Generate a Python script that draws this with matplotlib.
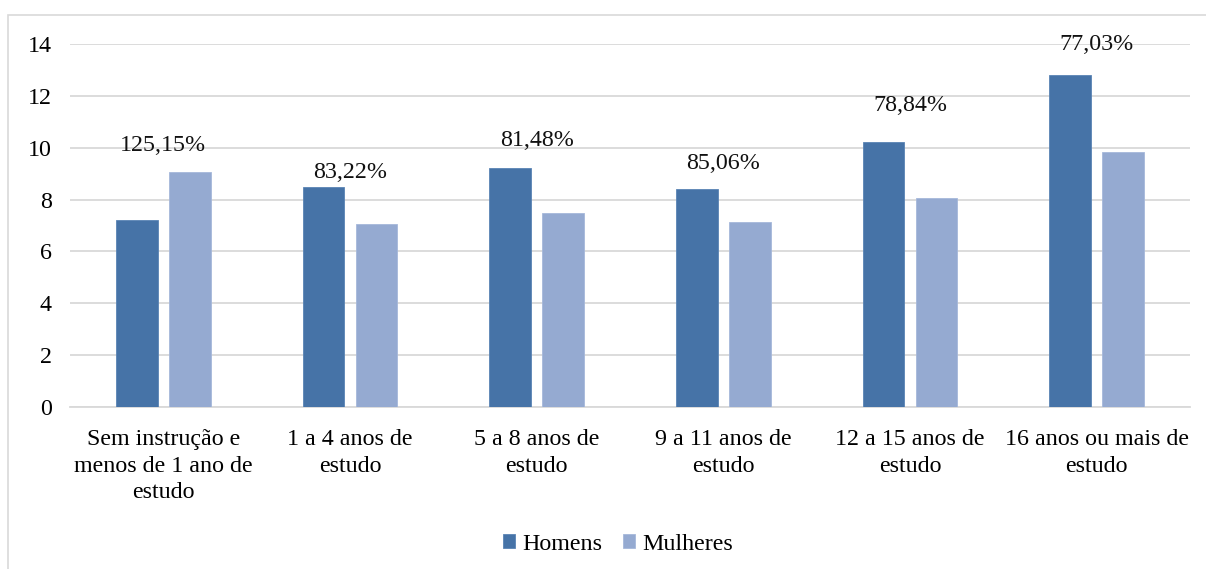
import matplotlib
matplotlib.use("Agg")
import matplotlib.pyplot as plt
from matplotlib.patches import Rectangle
import numpy as np

categories = [
    "Sem instrução e\nmenos de 1 ano de\nestudo",
    "1 a 4 anos de\nestudo",
    "5 a 8 anos de\nestudo",
    "9 a 11 anos de\nestudo",
    "12 a 15 anos de\nestudo",
    "16 anos ou mais de\nestudo",
]
homens = [7.23, 8.47, 9.20, 8.40, 10.21, 12.79]
mulheres = [9.05, 7.05, 7.50, 7.15, 8.05, 9.85]
razao_labels = ["125,15%", "83,22%", "81,48%", "85,06%", "78,84%", "77,03%"]
yticks = [0, 2, 4, 6, 8, 10, 12, 14]

# vertical placement of the ratio annotations (data units)
label_y = [10.07, 9.06, 10.26, 9.41, 11.62, 14.0]

plt.rcParams["font.family"] = ["Liberation Serif", "DejaVu Serif"]
FS = 17.3

W, H = 1206, 569
fig = plt.figure(figsize=(W / 100, H / 100), dpi=100)
fig.patch.set_facecolor("white")

# outer chart frame
fig.add_artist(Rectangle((8 / W, -0.01), 1.2, (H - 15) / H + 0.01,
                         transform=fig.transFigure, fill=False,
                         edgecolor="#d9d9d9", linewidth=1.2))

ax = fig.add_axes([70 / W, 1 - 407 / H, (1190 - 70) / W, (407 - 44) / H])

x = np.arange(len(categories))
bw = 0.222
off = 0.142
c_h = "#4673a7"
c_m = "#95aad1"
ax.bar(x - off, homens, bw, color=c_h, label="Homens", zorder=3,
       edgecolor="#5a84b5", linewidth=0.6)
ax.bar(x + off, mulheres, bw, color=c_m, label="Mulheres", zorder=3,
       edgecolor="#a6b8da", linewidth=0.6)

for xi, yi, t in zip(x, label_y, razao_labels):
    ax.text(xi, yi, t, ha="center", va="center", fontsize=FS, color="#111111", zorder=4)

ax.set_xlim(-0.5, len(categories) - 0.5)
ax.set_ylim(0, 14)
ax.set_yticks(yticks)
ax.set_yticklabels([str(v) for v in yticks], fontsize=FS)
ax.set_xticks(x)
ax.set_xticklabels(categories, fontsize=FS, linespacing=1.33)
ax.tick_params(axis="y", length=0, pad=13)
ax.tick_params(axis="x", length=0, pad=16)
ax.grid(axis="y", color="#d9d9d9", linewidth=1.3, zorder=0)
for s in ["top", "right", "left"]:
    ax.spines[s].set_visible(False)
ax.spines["bottom"].set_color("#d9d9d9")
ax.spines["bottom"].set_linewidth(1.3)
ax.spines["bottom"].set_zorder(2)

leg = fig.legend(loc="center", bbox_to_anchor=(618 / W, 1 - 544 / H), ncol=2,
                 frameon=False, fontsize=FS, handlelength=0.5, handleheight=0.5,
                 handletextpad=0.3, columnspacing=0.9)

fig.savefig("out.png", dpi=100, facecolor="white")
